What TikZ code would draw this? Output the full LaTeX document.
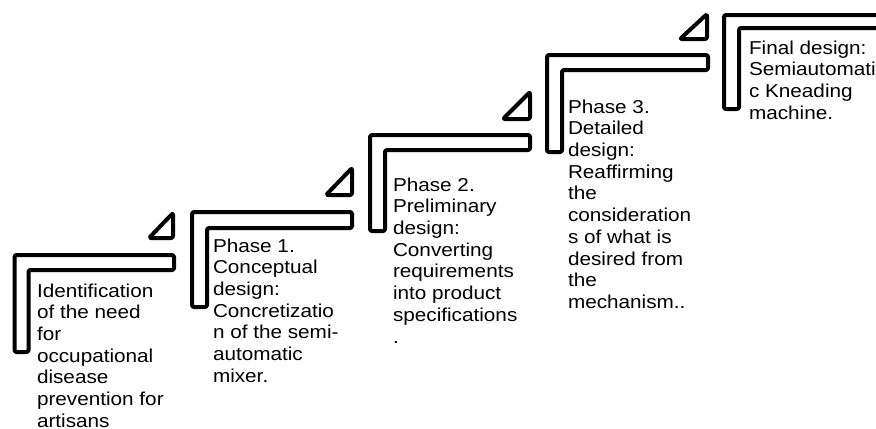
\documentclass[tikz,border=0pt]{standalone}
\usepackage{fontspec}
\setmainfont[FakeStretch=1.11]{Liberation Sans}
\newcommand{\stairtext}[1]{\fontsize{14pt}{16.3pt}\selectfont\begin{tabular}[t]{@{}l@{}}#1\end{tabular}}
\begin{document}
\begin{tikzpicture}[x=0.75pt,y=-0.75pt,
  stair/.style={draw=black,line width=3pt,line join=round,rounded corners=1.5pt},
  lbl/.style={anchor=base west,inner sep=0pt,outer sep=0pt}]
\useasboundingbox (0,0) rectangle (876,429);
% steps
\draw[stair] (14.5,255) -- (174,255) -- (174,270) -- (28.5,270) -- (28.5,352) -- (14.5,352) -- cycle;
\draw[stair] (173,213) -- (173,238) -- (149,238) -- cycle;
\draw[stair] (192,212) -- (352,212) -- (352,228) -- (207,228) -- (207,307) -- (192,307) -- cycle;
\draw[stair] (352,168) -- (352,195) -- (326,195) -- cycle;
\draw[stair] (370,135) -- (530,135) -- (530,150) -- (385,150) -- (385,231) -- (370,231) -- cycle;
\draw[stair] (530,92) -- (530,119) -- (503,119) -- cycle;
\draw[stair] (547,55) -- (708,55) -- (708,70) -- (562,70) -- (562,152) -- (547,152) -- cycle;
\draw[stair] (707,14) -- (707,39) -- (680,39) -- cycle;
\draw[stair] (724,15) -- (900,15) -- (900,28) -- (739,28) -- (739,109) -- (724,109) -- cycle;
% texts
\node[lbl] (t1) at (37,297) {\stairtext{Identification\\of the need\\for\\occupational\\disease\\prevention for\\artisans}};
\node[lbl] (t2) at (213,252) {\stairtext{Phase 1.\\Conceptual\\design:\\Concretizatio\\n of the semi-\\automatic\\mixer.}};
\node[lbl] (t3) at (393,191) {\stairtext{Phase 2.\\Preliminary\\design:\\Converting\\requirements\\into product\\specifications\\.}};
\node[lbl] (t4) at (568,113) {\stairtext{Phase 3.\\Detailed\\design:\\Reaffirming\\the\\consideration\\s of what is\\desired from\\the\\mechanism..}};
\node[lbl] (t5) at (749,54) {\stairtext{Final design:\\Semiautomati\\c Kneading\\machine.}};
\end{tikzpicture}
\end{document}
